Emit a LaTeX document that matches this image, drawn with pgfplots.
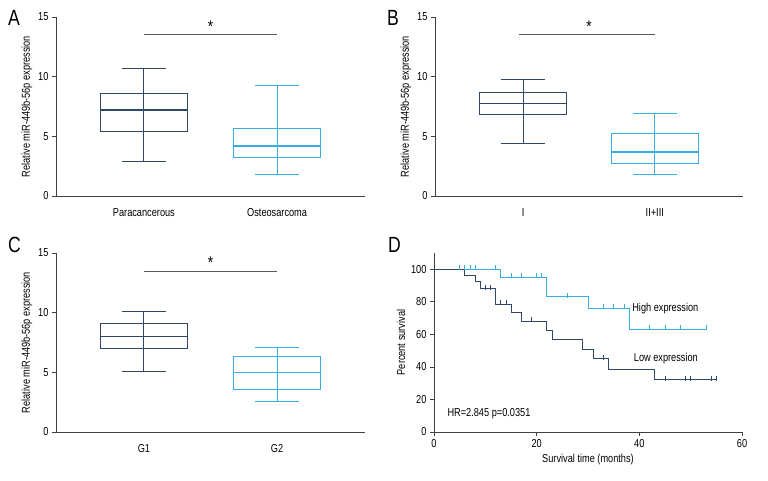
\documentclass[border=0pt]{standalone}
\usepackage{fontspec}
\setmainfont{Liberation Sans}[FakeStretch=0.8]
\usepackage{pgfplots}
\pgfplotsset{compat=1.18}
\usepgfplotslibrary{statistics}

\definecolor{navy}{RGB}{45,72,105}
\definecolor{sky}{RGB}{55,172,222}
\newcommand\fs{\fontsize{11.5}{13}\selectfont}
\newcommand\bigfs{\fontsize{22}{22}\selectfont}
\newcommand\starfs{\fontsize{17}{17}\selectfont}

\pgfplotsset{
  panel/.style={
    scale only axis, clip=false,
    axis x line*=bottom, axis y line*=left,
    axis line style={-,black!75,line width=0.8pt},
    tick align=outside, major tick length=4pt,
    tick style={black!75,line width=0.8pt},
    tick label style={font=\fs}, label style={font=\fs},
    /pgf/number format/assume math mode=true,
  },
  boxpanel/.style={
    panel, width=309pt, height=179pt,
    xmin=0.34, xmax=2.66, ymin=0, ymax=15,
    ytick={0,5,10,15}, xtick={1,2},
    major x tick style={draw=none},
    xticklabel style={yshift=-5pt},
    ylabel={Relative miR-449b-56p expression},
    ylabel style={yshift=-1pt},
    boxplot/draw direction=y,
    boxplot/every median/.style={line width=1.6pt},
  },
  bx/.style={line width=0.9pt, solid, mark=none},
}

\begin{document}
\begin{tikzpicture}
\useasboundingbox (0,0) rectangle (768pt,480pt);

% A
\begin{axis}[boxpanel, at={(56pt,284pt)}, anchor=south west,
  xticklabels={Paracancerous,Osteosarcoma}]
\addplot[bx, draw=navy, boxplot prepared={lower whisker=2.9, lower quartile=5.4,
  median=7.2, upper quartile=8.6, upper whisker=10.7, draw position=1,
  box extend=0.65, whisker extend=0.33}] coordinates {};
\addplot[bx, navy] coordinates {(1,2.9) (1,10.7)};
\addplot[bx, draw=sky, boxplot prepared={lower whisker=1.8, lower quartile=3.2,
  median=4.2, upper quartile=5.7, upper whisker=9.3, draw position=2,
  box extend=0.65, whisker extend=0.33}] coordinates {};
\addplot[bx, sky] coordinates {(2,1.8) (2,9.3)};
\addplot[black!65, line width=0.9pt] coordinates {(1,13.5) (2,13.5)};
\node[font=\starfs, inner sep=0pt] at (axis cs:1.5,14.2) {*};
\end{axis}

% B
\begin{axis}[boxpanel, at={(435pt,284pt)}, anchor=south west, width=308pt,
  xmin=0.33, xmax=2.67, xticklabels={I,II+III}]
\addplot[bx, draw=navy, boxplot prepared={lower whisker=4.4, lower quartile=6.85,
  median=7.75, upper quartile=8.7, upper whisker=9.8, draw position=1,
  box extend=0.66, whisker extend=0.33}] coordinates {};
\addplot[bx, navy] coordinates {(1,4.4) (1,9.8)};
\addplot[bx, draw=sky, boxplot prepared={lower whisker=1.8, lower quartile=2.7,
  median=3.7, upper quartile=5.2, upper whisker=6.9, draw position=2,
  box extend=0.66, whisker extend=0.33}] coordinates {};
\addplot[bx, sky] coordinates {(2,1.8) (2,6.9)};
\addplot[black!65, line width=0.9pt] coordinates {(0.97,13.5) (2,13.5)};
\node[font=\starfs, inner sep=0pt] at (axis cs:1.5,14.2) {*};
\end{axis}

% C
\begin{axis}[boxpanel, at={(56pt,48pt)}, anchor=south west,
  xticklabels={G1,G2}]
\addplot[bx, draw=navy, boxplot prepared={lower whisker=5.05, lower quartile=7.0,
  median=8.0, upper quartile=9.1, upper whisker=10.1, draw position=1,
  box extend=0.65, whisker extend=0.33}] coordinates {};
\addplot[bx, navy] coordinates {(1,5.05) (1,10.1)};
\addplot[bx, draw=sky, boxplot prepared={lower whisker=2.6, lower quartile=3.6,
  median=5.0, upper quartile=6.3, upper whisker=7.1, draw position=2,
  box extend=0.65, whisker extend=0.33}] coordinates {};
\addplot[bx, sky] coordinates {(2,2.6) (2,7.1)};
\addplot[black!65, line width=0.9pt] coordinates {(1,13.45) (2,13.45)};
\node[font=\starfs, inner sep=0pt] at (axis cs:1.5,14.2) {*};
\end{axis}

% D
\begin{axis}[panel, at={(434pt,48pt)}, anchor=south west, width=308pt, height=179pt,
  xmin=0, xmax=60, ymin=0, ymax=110,
  xtick={0,20,40,60}, ytick={0,20,40,60,80,100},
  xlabel={Survival time (months)}, ylabel={Percent survival},
  xlabel style={yshift=0pt}, ylabel style={yshift=-1pt}]
\addplot[sky, line width=0.9pt, const plot] coordinates
  {(0,100) (13,95) (22,83) (30,76) (38,63) (53,63)};
\addplot[navy, line width=0.9pt, const plot] coordinates
  {(0,100) (6,96.5) (8,92.4) (9,88.1) (12,78.4) (15,73.5) (17,68.2) (22,62.6)
   (23,56.9) (29,50.7) (31,45) (34,38.6) (43,32) (55,32)};
\addplot[sky, only marks, mark=|, mark size=2.5pt, mark options={yshift=1.5pt, line width=0.7pt}]
  coordinates {(5,100) (6,100) (7,100) (8,100) (12,100) (15,95) (17,95) (20,95)
   (21,95) (26,83) (33,76) (35,76) (37,76) (42,63) (45,63) (48,63) (53,63)};
\addplot[navy, only marks, mark=|, mark size=2.5pt, mark options={yshift=1.5pt, line width=0.7pt}]
  coordinates {(10,88.1) (11,88.1) (13,78.4) (14,78.4) (19,68.2) (33,45) (45,32)
   (49,32) (50,32) (54,32) (55,32)};
\node[font=\fs, anchor=west, inner sep=0pt] at (axis cs:38.6,76) {High expression};
\node[font=\fs, anchor=west, inner sep=0pt] at (axis cs:38.9,45) {Low expression};
\node[font=\fs, anchor=west, inner sep=0pt] at (axis cs:2.6,11.3) {HR=2.845 p=0.0351};
\end{axis}

\node[font=\bigfs, anchor=north west, inner sep=0pt] at (8pt,470pt) {A};
\node[font=\bigfs, anchor=north west, inner sep=0pt] at (387pt,470pt) {B};
\node[font=\bigfs, anchor=north west, inner sep=0pt] at (8pt,243pt) {C};
\node[font=\bigfs, anchor=north west, inner sep=0pt] at (388pt,243pt) {D};
\end{tikzpicture}
\end{document}
